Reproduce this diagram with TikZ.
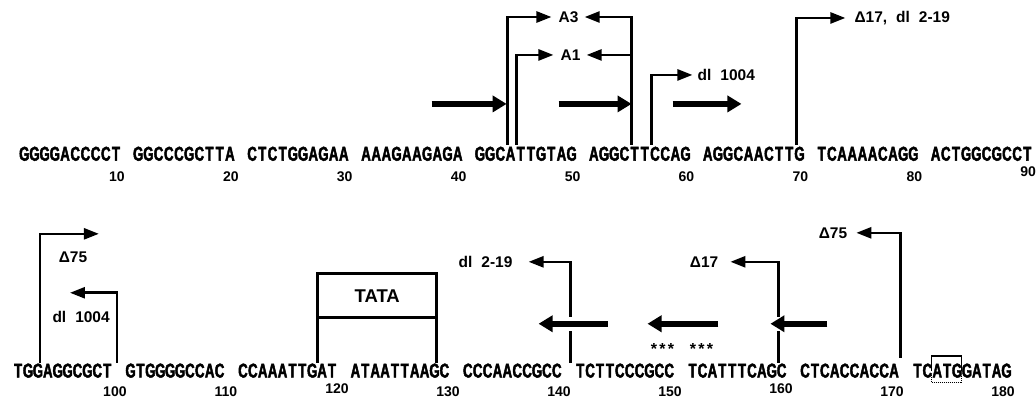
\documentclass[tikz,border=0pt]{standalone}
\usepackage{fontspec}
\setmainfont{Liberation Sans}
\newfontfamily\seqfont[FakeStretch=0.66, FakeBold=2.2]{Liberation Sans}
\usetikzlibrary{arrows.meta,positioning,calc}
\def\seqpitch{10pt}
\def\spellout#1{\ifx\relax#1\else\makebox[\seqpitch]{#1}\expandafter\spellout\fi}

\begin{document}
\begin{tikzpicture}[x=1pt, y=-1pt,
  seq/.style={font={\seqfont\bfseries\fontsize{20pt}{20pt}\selectfont}, inner sep=0pt,
              text height=14.2pt, text depth=0pt, anchor=south west},
  num/.style={font={\bfseries\fontsize{14pt}{14pt}\selectfont}, inner sep=0pt},
  lbl/.style={font={\bfseries\fontsize{15.5pt}{15.5pt}\selectfont\spaceskip=9pt\relax}, inner sep=0pt},
  arr/.style={-{Triangle[length=15pt, width=11pt]}, line width=2.6pt},
  bar/.style={line width=2.6pt},
  bigarr/.style={-{Triangle[length=14pt, width=16pt]}, line width=6pt},
  crossarr/.style={bigarr, preaction={draw=white, line width=14pt, -}}
]
  \fill[white] (0,0) rectangle (1036,399);

  % upper sequence, 1-90
  \foreach \g/\n/\dy [count=\i] in {GGGGACCCCT/10/0, GGCCCGCTTA/20/0, CTCTGGAGAA/30/0,
      AAAGAAGAGA/40/0, GGCATTGTAG/50/0, AGGCTTCCAG/60/0, AGGCAACTTG/70/0,
      TCAAAACAGG/80/0, ACTGGCGCCT/90/5} {
    \node[seq] (a\i) at ({19+(\i-1)*114}, 161) {\def\seqpitch{10.2pt}\expandafter\spellout\g\relax};
    \node[num] (na\i) at ({117+(\i-1)*114}, {177-\dy}) {\n};
  }

  % lower sequence, 91-180
  \foreach \g/\n/\dy [count=\i] in {TGGAGGCGCT/100/0, GTGGGGCCAC/110/0, CCAAATTGAT/120/3,
      ATAATTAAGC/130/0, CCCAACCGCC/140/0, TCTTCCCGCC/150/0, TCATTTCAGC/160/3,
      CTCACCACCA/170/0, TCATGGATAG/180/0} {
    \node[seq] (b\i) at ({13+(\i-1)*112.5}, 378) {\def\seqpitch{9.9pt}\expandafter\spellout\g\relax};
    \node[num] (nb\i) at ({115+(\i-1)*111.1}, {392-\dy}) {\n};
  }

  % upper end points
  \coordinate (f44) at (508,145);
  \coordinate (f45) at (517,145);
  \coordinate (f55) at (632,145);
  \coordinate (f57) at (652,145);
  \coordinate (f69) at (797,145);

  \node[lbl] (lA3) at (569,17) {A3};
  \node[lbl] (lA1) at (571,55) {A1};
  \node[lbl, anchor=west] (ldl1) at (698,75) {dl 1004};
  \node[lbl, anchor=west] (ld17) at (855,18) {Δ17, dl 2-19};

  \draw[arr] (f44) |- ([xshift=-7pt]lA3.west);
  \draw[arr] (f45) |- ([xshift=-7pt]lA1.west);
  \draw[arr] (f55) |- ([xshift=6pt]lA3.east);
  \draw[arr] (f55 |- lA1) -- ([xshift=6pt]lA1.east);
  \draw[arr] (f57) |- ([xshift=-5pt]ldl1.west);
  \draw[arr] (f69) |- ([xshift=-9pt]ld17.west);

  \foreach \s/\e [count=\i] in {432/507, 559/632, 673/742} {
    \coordinate (ua\i) at (\s,104);
    \coordinate (ub\i) at (\e,104);
    \draw[bigarr] (ua\i) -- (ub\i);
  }

  % lower end points
  \coordinate (f94) at (40,363);
  \coordinate (f100) at (117,363);
  \coordinate (f120) at (318,363);
  \coordinate (f129) at (437,363);
  \coordinate (f141) at (571,363);
  \coordinate (f160) at (779,363);
  \coordinate (f171) at (901,358);
  \coordinate (e94) at (99,234);
  \coordinate (e100) at (70,293);

  \node[lbl] (ld75a) at (73,257) {Δ75};
  \node[lbl, anchor=east] (ldl1b) at (110,317) {dl 1004};
  \node[lbl, anchor=east] (ld219) at (513,262) {dl 2-19};
  \node[lbl, anchor=east] (ld17b) at (719,262) {Δ17};
  \node[lbl, anchor=east] (ld75b) at (848,233) {Δ75};

  \draw[arr] (f94) |- (e94);
  \draw[arr] (f100) |- (e100);
  \draw[arr] (f141) |- ([xshift=16pt]ld219.east);
  \draw[arr] (f160) |- ([xshift=12pt]ld17b.east);
  \draw[arr] (f171) |- ([xshift=9pt]ld75b.east);

  \node[draw, line width=2.6pt, outer sep=0pt, inner sep=0pt, minimum width=119pt,
        minimum height=44pt, font={\bfseries\fontsize{18.5pt}{18.5pt}\selectfont}]
        (tata) at (377.5,296) {TATA};
  \draw[bar] (tata.south west) -- (f120);
  \draw[bar] (tata.south east) -- (f129);

  \foreach \s/\e [count=\i] in {608/539, 719/648, 828/771} {
    \coordinate (la\i) at (\s,324);
    \coordinate (lb\i) at (\e,324);
    \draw[crossarr] (la\i) -- (lb\i);
  }

  \node[font={\bfseries\fontsize{16pt}{16pt}\selectfont}, inner sep=0pt, anchor=base]
    (st1) at (663,355) {\def\seqpitch{8.5pt}\spellout ***\relax};
  \node[font={\bfseries\fontsize{16pt}{16pt}\selectfont}, inner sep=0pt, anchor=base]
    (st2) at (702,355) {\def\seqpitch{8.5pt}\spellout ***\relax};

  % start codon bracket
  \coordinate (atgL) at ($(b9.north west)!0.195!(b9.north east)$);
  \coordinate (atgR) at ($(b9.north west)!0.495!(b9.north east)$);
  \coordinate (atgLb) at ($(b9.south west)!0.195!(b9.south east)$);
  \coordinate (atgRb) at ($(b9.south west)!0.495!(b9.south east)$);
  \draw[line width=1.6pt] ([yshift=-8pt]atgL) -- ([yshift=7pt]atgL)
    -- ([yshift=7pt]atgR) -- ([yshift=-8pt]atgR);
  \draw[line width=1pt, densely dotted] ([yshift=3pt]atgLb) -- ([yshift=-5pt]atgLb)
    -- ([yshift=-5pt]atgRb) -- ([yshift=3pt]atgRb);
\end{tikzpicture}
\end{document}
